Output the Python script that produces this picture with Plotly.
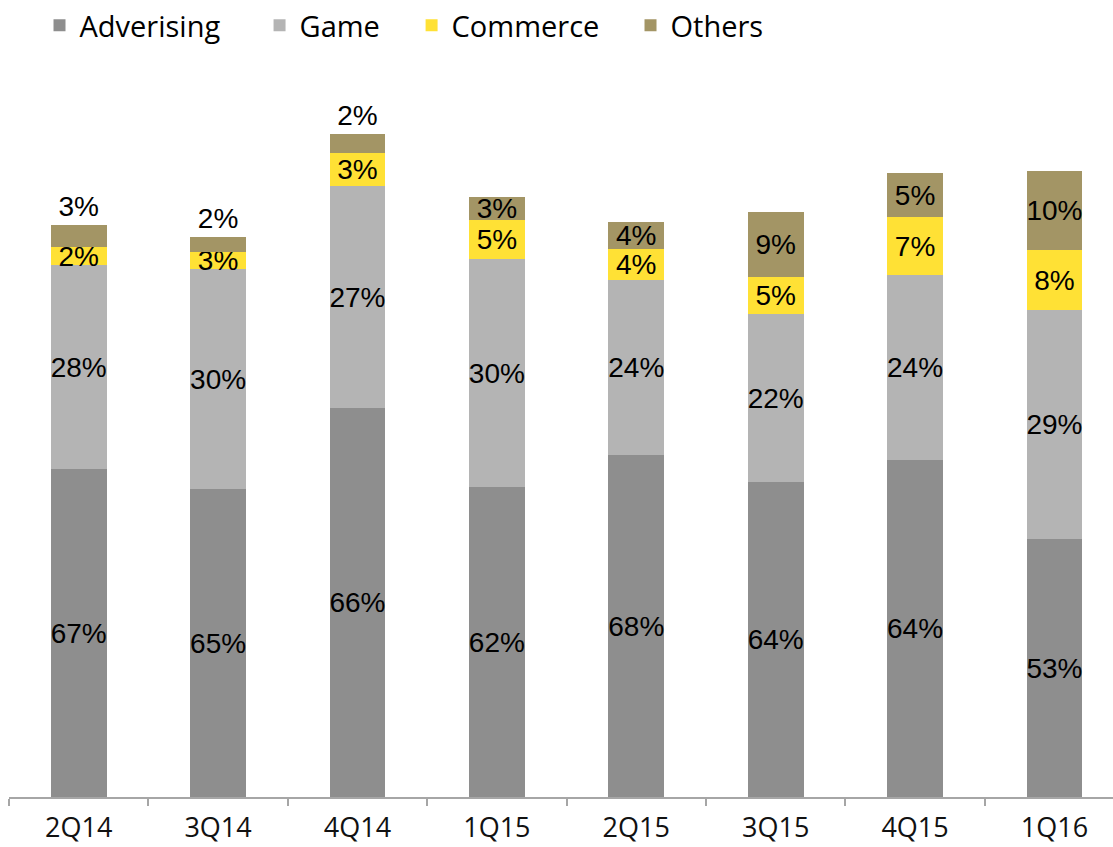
import plotly.graph_objects as go

quarters = ["2Q14", "3Q14", "4Q14", "1Q15", "2Q15", "3Q15", "4Q15", "1Q16"]

# Segment sizes (relative units)
advertising = [328, 308, 389, 310, 342, 315, 337, 258]
game = [204, 220, 222, 228, 175, 168, 185, 229]
commerce = [18, 17, 33, 39, 31, 37, 58, 60]
others = [22, 15, 19, 23, 27, 65, 44, 79]

# Percentage labels shown on the segments
advertising_pct = ["67%", "65%", "66%", "62%", "68%", "64%", "64%", "53%"]
game_pct = ["28%", "30%", "27%", "30%", "24%", "22%", "24%", "29%"]
commerce_pct = ["2%", "3%", "3%", "5%", "4%", "5%", "7%", "8%"]
others_pct = ["3%", "2%", "2%", "3%", "4%", "9%", "5%", "10%"]

# Thin top segments carry their label just above the bar
others_textpos = ["outside", "outside", "outside", "inside", "inside", "inside", "inside", "inside"]

series = [
    ("Adverising", advertising, advertising_pct, "#8e8e8e", "inside", "legend"),
    ("Game", game, game_pct, "#b4b4b4", "inside", "legend2"),
    ("Commerce", commerce, commerce_pct, "#ffe135", "inside", "legend3"),
    ("Others", others, others_pct, "#a39565", others_textpos, "legend4"),
]

label_font = dict(family="Liberation Sans, Arial, sans-serif", size=28, color="#000000")

fig = go.Figure()
for name, vals, labels, color, tpos, leg in series:
    fig.add_trace(go.Bar(
        name=name,
        x=quarters,
        y=vals,
        text=labels,
        textposition=tpos,
        insidetextanchor="middle",
        textangle=0,
        constraintext="none",
        cliponaxis=False,
        marker=dict(color=color, line=dict(width=0)),
        textfont=label_font,
        insidetextfont=label_font,
        outsidetextfont=label_font,
        legend=leg,
        hoverinfo="skip",
    ))

legend_font = dict(family="Open Sans, sans-serif", size=29, color="#000000")
legend_common = dict(
    orientation="h",
    xref="container", yref="container",
    y=1.0, xanchor="left", yanchor="top",
    font=legend_font,
    bgcolor="rgba(0,0,0,0)",
    itemclick=False,
)

fig.update_layout(
    width=1113,
    height=847,
    barmode="stack",
    bargap=0.6,
    plot_bgcolor="white",
    paper_bgcolor="white",
    margin=dict(l=9, r=0, t=110, b=50),
    showlegend=True,
    legend=dict(x=0.0355, **legend_common),
    legend2=dict(x=0.2332, **legend_common),
    legend3=dict(x=0.3698, **legend_common),
    legend4=dict(x=0.5665, **legend_common),
    xaxis=dict(
        type="category",
        range=[-0.5, 7.42],
        showline=True,
        linecolor="#a6a6a6",
        linewidth=1.5,
        ticks="outside",
        tickson="boundaries",
        ticklen=7,
        tickcolor="#a6a6a6",
        tickwidth=1.5,
        showgrid=False,
        ticklabelstandoff=6,
        tickfont=dict(family="Open Sans, sans-serif", size=27, color="#111111"),
    ),
    yaxis=dict(visible=False, range=[0, 687], fixedrange=True),
)

fig.write_html(
    "out.html",
    config={"displayModeBar": False},
    post_script="document.body.style.margin='0';document.body.style.overflow='hidden';",
)
